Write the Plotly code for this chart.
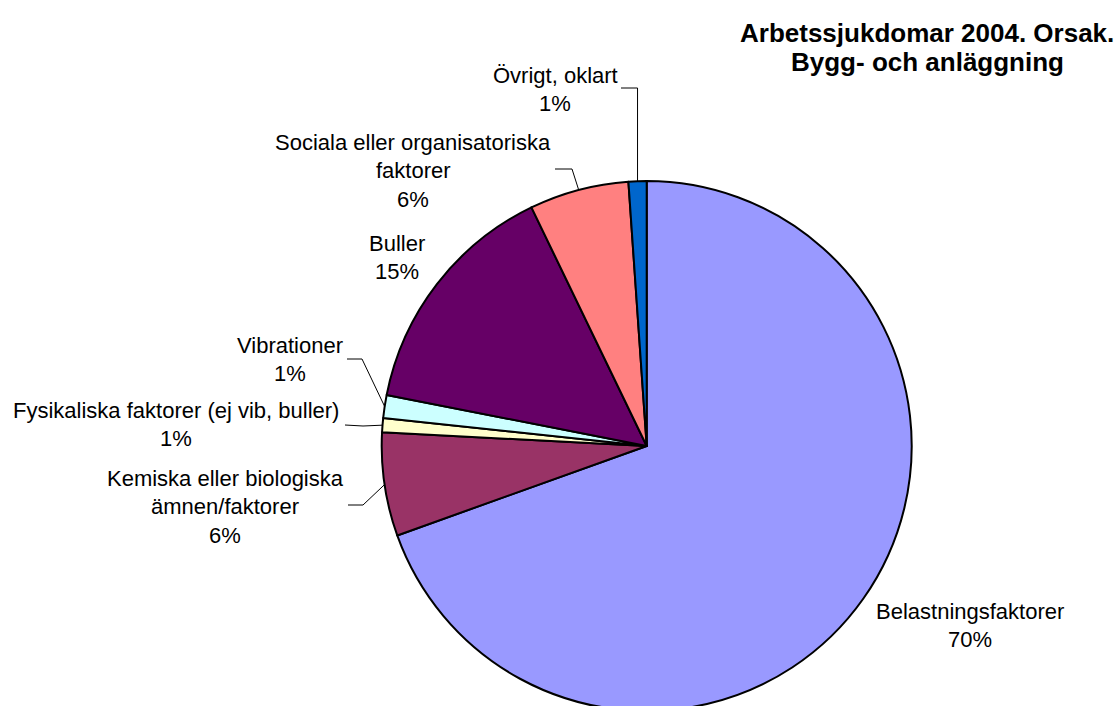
import math
import plotly.graph_objects as go

# ---------------- data ----------------
categories = [
    "Belastningsfaktorer",
    "Kemiska eller biologiska ämnen/faktorer",
    "Fysikaliska faktorer (ej vib, buller)",
    "Vibrationer",
    "Buller",
    "Sociala eller organisatoriska faktorer",
    "Övrigt, oklart",
]
values = [69.5, 6.3, 0.86, 1.4, 14.75, 6.06, 1.1]
colors = ["#9999FF", "#993366", "#FFFFCC", "#CCFFFF", "#660066", "#FF8080", "#0066CC"]
# label text lines (category name split as in the chart)
label_lines = [
    ["Belastningsfaktorer"],
    ["Kemiska eller biologiska", "ämnen/faktorer"],
    ["Fysikaliska faktorer (ej vib, buller)"],
    ["Vibrationer"],
    ["Buller"],
    ["Sociala eller organisatoriska", "faktorer"],
    ["Övrigt, oklart"],
]
title_lines = ["Arbetssjukdomar 2004. Orsak.", "Bygg- och anläggning"]

# ---------------- layout constants (pixels) ----------------
W, H = 1119, 716
CX, CY, R = 646.7, 446.0, 265.0
FONT = "Liberation Sans, Arial, sans-serif"
LINE_H = 28.6

# label placement: (center x, first-line center y)
label_pos = [
    (970, 611),
    (225, 478),
    (176, 410),
    (290, 345),
    (397, 243),
    (413, 142),
    (555, 75),
]
# leader lines: points from text end to elbow (edge point appended from data)
leaders = {
    1: [(348, 505), (363, 505)],
    2: [(345, 425), (363, 426)],
    3: [(347, 359), (362, 359)],
    5: [(555, 169), (572, 169)],
    6: [(621, 88), None],   # None -> vertical elbow above the edge point
}

total = sum(values)
pcts = [round(v / total * 100) for v in values]

fig = go.Figure()
fig.add_trace(go.Pie(
    labels=categories,
    values=values,
    sort=False,
    direction="clockwise",
    rotation=0,
    marker=dict(colors=colors, line=dict(color="#000000", width=2)),
    textinfo="none",
    hoverinfo="label+percent",
    showlegend=False,
    domain=dict(x=[(CX - R) / W, (CX + R) / W], y=[(H - (CY + R)) / H, (H - (CY - R)) / H]),
))

annotations = []
for i, (lines, (x, y)) in enumerate(zip(label_lines, label_pos)):
    all_lines = lines + [f"{pcts[i]}%"]
    for k, t in enumerate(all_lines):
        annotations.append(dict(
            x=x, y=y + k * LINE_H, xref="x", yref="y", text=t, showarrow=False,
            xanchor="center", yanchor="middle",
            font=dict(family=FONT, size=22, color="#000000"),
        ))

for k, t in enumerate(title_lines):
    annotations.append(dict(
        x=927, y=33 + k * 29, xref="x", yref="y", text=f"<b>{t}</b>", showarrow=False,
        xanchor="center", yanchor="middle",
        font=dict(family=FONT, size=26, color="#000000"),
    ))

shapes = []
cum = 0.0
for i, v in enumerate(values):
    mid = (cum + v / 2) / total * 2 * math.pi
    cum += v
    if i not in leaders:
        continue
    ex = CX + R * math.sin(mid)
    ey = CY - R * math.cos(mid)
    end, elbow = leaders[i]
    if elbow is None:
        elbow = (ex, end[1])
    pts = [end, elbow, (ex, ey)]
    path = "M " + " L ".join(f"{px:.2f},{py:.2f}" for px, py in pts)
    shapes.append(dict(type="path", path=path, xref="x", yref="y",
                       line=dict(color="#000000", width=1), layer="above"))

fig.update_layout(
    width=W, height=H,
    margin=dict(l=0, r=0, t=0, b=0),
    paper_bgcolor="white", plot_bgcolor="rgba(0,0,0,0)",
    xaxis=dict(range=[0, W], visible=False, fixedrange=True, domain=[0, 1]),
    yaxis=dict(range=[H, 0], visible=False, fixedrange=True, domain=[0, 1]),
    annotations=annotations,
    shapes=shapes,
    showlegend=False,
)

fig.write_html(
    "out.html",
    config={"displayModeBar": False},
    post_script="document.body.style.margin='0';document.body.style.overflow='hidden';",
)
